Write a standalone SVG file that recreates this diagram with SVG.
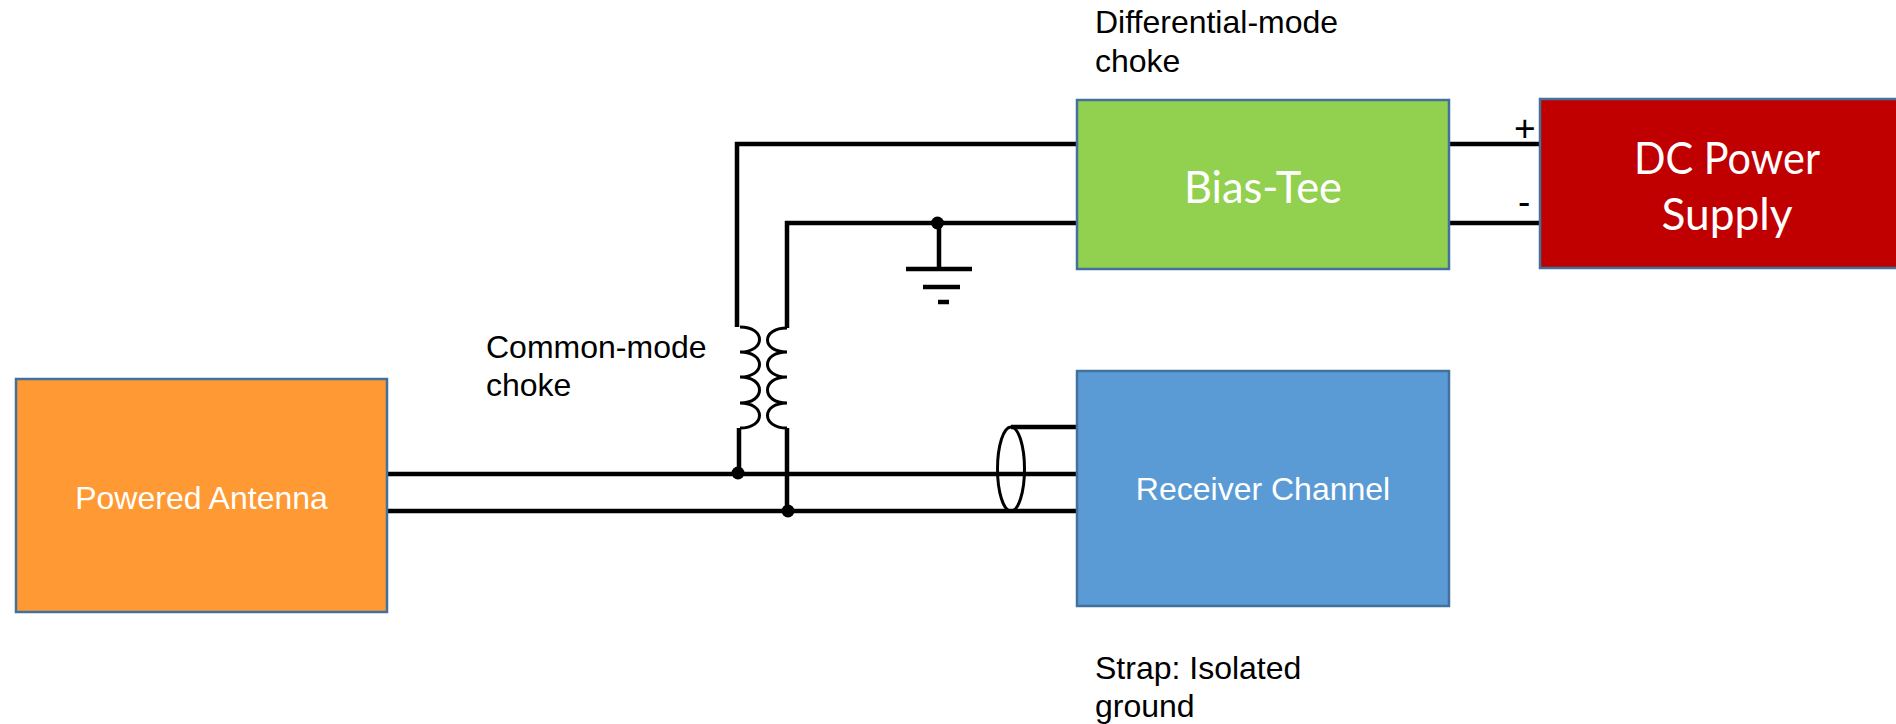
<svg xmlns="http://www.w3.org/2000/svg" width="1896" height="724" viewBox="0 0 1896 724">
<style>
.box{stroke:#41719c;stroke-width:2.5}
.w{fill:none;stroke:#000;stroke-width:4.5}
.c{fill:none;stroke:#000;stroke-width:3}
.t{font-family:"Liberation Sans",Arial,sans-serif;fill:#000}
.l{font-size:32px}
.wt{fill:#fff;text-anchor:middle}
.h{font-family:Lato,"Open Sans",sans-serif;font-size:44px}
</style>
<rect width="1896" height="724" fill="#fff"/>
<g id="connectors">
<path class="w" d="M387 474H1077M387 511H1077M737 327V144H1077M787 328V223H1077M939 223V268M1449 144H1540M1449 223H1540M739 428V474M787 428V511M1011 427H1077"/>
<path class="w" d="M906 269H972M923 287H960M938 302H949"/>
<path class="c" d="M740 327C766 327 766 352 740 352C766 352 766 377 740 377C766 377 766 403 740 403C766 403 766 428 740 428"/>
<path class="c" d="M787 328C761 328 761 352 787 352C761 352 761 377 787 377C761 377 761 403 787 403C761 403 761 428 787 428"/>
<ellipse class="c" cx="1011" cy="469" rx="13.5" ry="42"/>
<circle cx="738" cy="473" r="6.5"/>
<circle cx="788" cy="511" r="6.5"/>
<circle cx="937.5" cy="223" r="6.5"/>
</g>
<g id="powered-antenna">
<rect class="box" x="16" y="379" width="371" height="233" fill="#ff9933"/>
<text class="t wt" x="201.500" y="509" font-size="32">Powered Antenna</text>
</g>
<g id="bias-tee">
<rect class="box" x="1077" y="100" width="372" height="169" fill="#92d050"/>
<text class="h wt" x="1263" y="203" textLength="158" lengthAdjust="spacingAndGlyphs">Bias-Tee</text>
</g>
<g id="dc-power-supply">
<rect class="box" x="1540" y="99" width="358" height="169" fill="#c00000"/>
<text class="h wt" x="1727" y="174" textLength="186" lengthAdjust="spacingAndGlyphs">DC Power</text>
<text class="h wt" x="1727" y="230" textLength="131" lengthAdjust="spacingAndGlyphs">Supply</text>
</g>
<g id="receiver-channel">
<rect class="box" x="1077" y="371" width="372" height="235" fill="#5b9bd5"/>
<text class="t wt" x="1263" y="500" font-size="32">Receiver Channel</text>
</g>
<text class="t l" x="1095" y="33">Differential-mode</text>
<text class="t l" x="1095" y="72">choke</text>
<text class="t l" x="486" y="358">Common-mode</text>
<text class="t l" x="486" y="396">choke</text>
<text class="t l" x="1095" y="679">Strap: Isolated</text>
<text class="t l" x="1095" y="717">ground</text>
<text class="t" x="1514" y="141" font-size="37">+</text>
<text class="t" x="1518" y="214" font-size="37">-</text>
</svg>
